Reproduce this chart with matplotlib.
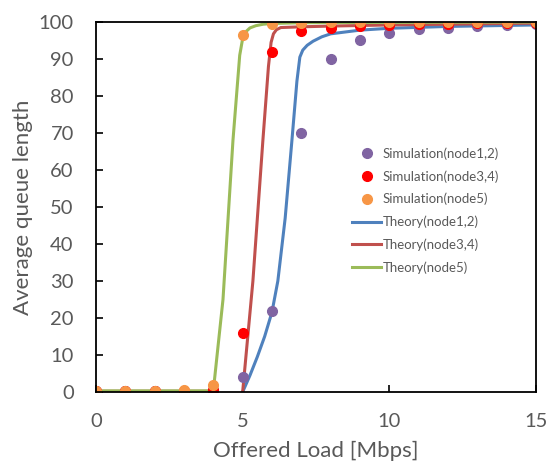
import matplotlib.pyplot as plt
import numpy as np

plt.rcParams['font.family'] = ['Lato', 'DejaVu Sans']

# simulation points (offered load 0..15 Mbps)
load = list(range(16))
sim_node12 = [0.2, 0.2, 0.2, 0.3, 0.5, 4, 22, 70, 90, 95.2, 97, 98, 98.5, 99, 99.2, 99.5]
sim_node34 = [0.2, 0.2, 0.2, 0.3, 0.6, 16, 92, 97.5, 98.5, 99, 99.3, 99.4, 99.5, 99.6, 99.6, 99.7]
sim_node5 = [0.3, 0.3, 0.3, 0.5, 2, 96.5, 99.5, 99.8, 99.9, 100, 100, 100, 100, 100, 100, 100]

# theory curves
th12_x = [5.0, 5.25, 5.5, 5.75, 6.0, 6.2, 6.45, 6.68, 6.85, 6.95, 7.05, 7.2, 7.4, 7.7, 8.0, 9.0, 10, 12, 15]
th12_y = [0, 4.5, 9.5, 15, 21.6, 30, 47, 68, 84, 90.5, 92.4, 93.7, 94.8, 96, 96.8, 97.8, 98.3, 98.8, 99.2]
th34_x = [0, 1, 2, 3, 4, np.nan, 5.0, 5.35, 5.69, 5.88, 5.97, 6.05, 6.15, 6.3, 7, 8, 10, 15]
th34_y = [0.2, 0.2, 0.2, 0.2, 0.2, np.nan, 0, 30, 68, 88, 94.5, 96.8, 97.9, 98.5, 98.7, 98.9, 99.2, 99.7]
th5_x = [0, 1, 2, 3, 4.0, 4.33, 4.67, 4.9, 5.0, 5.1, 5.25, 5.45, 5.7, 6.0, 7, 10, 15]
th5_y = [0.3, 0.3, 0.3, 0.3, 0.3, 25, 68, 91, 95.5, 97.3, 98.4, 99, 99.4, 99.6, 99.8, 99.9, 100]

fig = plt.figure(figsize=(5.5, 4.68), dpi=100)
ax = fig.add_axes([0.1745, 0.1624, 0.8, 0.7906])

gray = '#595959'
l1, = ax.plot(th12_x, th12_y, color='#4F81BD', lw=2.2, label='Theory(node1,2)')
l2, = ax.plot(th34_x, th34_y, color='#C0504D', lw=2.2, label='Theory(node3,4)')
l3, = ax.plot(th5_x, th5_y, color='#9BBB59', lw=2.2, label='Theory(node5)')
s1, = ax.plot(load, sim_node12, 'o', color='#8064A2', ms=7, ls='none', label='Simulation(node1,2)')
s2, = ax.plot(load, sim_node34, 'o', color='#FF0000', ms=7, ls='none', label='Simulation(node3,4)')
s3, = ax.plot(load, sim_node5, 'o', color='#F79646', ms=7, ls='none', label='Simulation(node5)')

ax.set_xlim(0, 15)
ax.set_ylim(0, 100)
ax.set_xticks([0, 5, 10, 15])
ax.set_yticks(range(0, 101, 10))
ax.tick_params(direction='in', length=5, width=1.2, colors='black',
               labelcolor=gray, labelsize=14.5)
ax.tick_params(axis='x', pad=15)
ax.tick_params(axis='y', pad=16)
for sp in ax.spines.values():
    sp.set_linewidth(1.3)
    sp.set_color('black')

ax.set_xlabel('Offered Load [Mbps]', fontsize=16, color=gray, labelpad=8)
ax.set_ylabel('Average queue length', fontsize=16, color=gray, labelpad=4)

leg = ax.legend(handles=[s1, s2, s3, l1, l2, l3], loc='upper left',
                bbox_to_anchor=(0.57, 0.676), frameon=False, fontsize=9.5,
                labelcolor=gray, handlelength=2.2, handletextpad=0.1,
                labelspacing=0.78, borderaxespad=0)

fig.savefig('out.png', dpi=100)
